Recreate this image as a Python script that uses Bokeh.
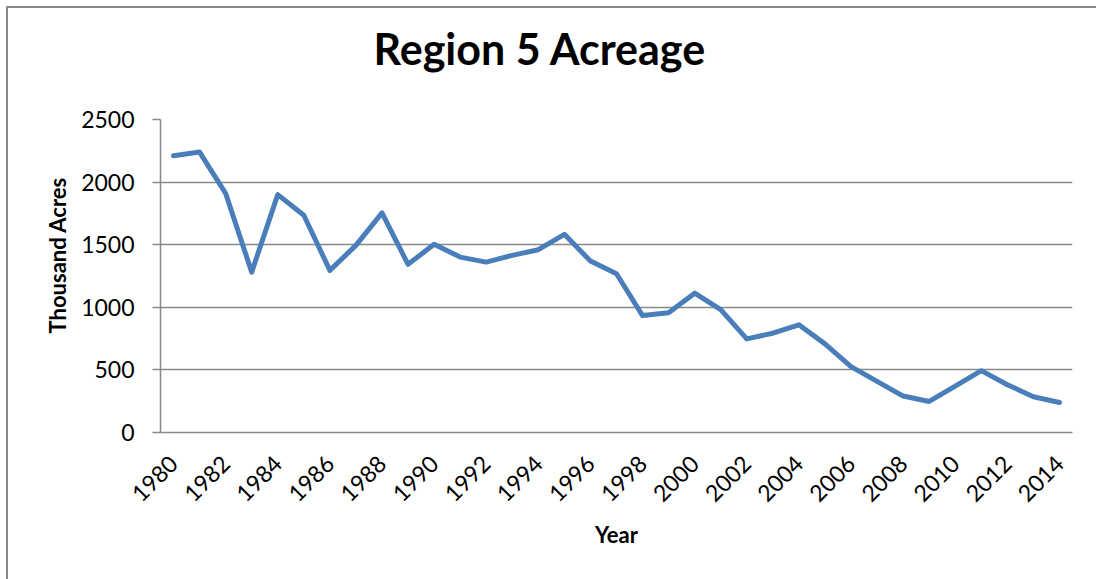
import math
from bokeh.plotting import figure
from bokeh.models import Range1d, FixedTicker, Title
from bokeh.embed import file_html
from bokeh.resources import INLINE

years = list(range(1980, 2015))
acres = [2210, 2240, 1910, 1281, 1900, 1735, 1295, 1495, 1754, 1343,
         1503, 1401, 1361, 1415, 1460, 1583, 1369, 1268, 934, 956,
         1113, 982, 748, 793, 860, 708, 526, 408, 291, 248,
         371, 494, 382, 286, 240]
year_ticks = list(range(1980, 2015, 2))
acre_ticks = [0, 500, 1000, 1500, 2000, 2500]

title_text = "Region 5 Acreage"
y_label = "Thousand Acres"
x_label = "Year"

FONT = "Lato"
GRID = "#898989"

p = figure(width=1096, height=579, output_backend="svg", toolbar_location=None,
           x_range=Range1d(1979.5, 2014.5), y_range=Range1d(0, 2500),
           min_border_left=160, min_border_right=24, min_border_top=119,
           min_border_bottom=147)
p.outline_line_color = None
p.background_fill_color = "white"
p.border_fill_color = None
p.styles = {
    "background-color": "white",
    "background-image": "linear-gradient(#888888, #888888), linear-gradient(#888888, #888888)",
    "background-size": "2px 100%, 100% 2px",
    "background-position": "6px 6px, 6px 6px",
    "background-repeat": "no-repeat",
}

p.line(years, acres, line_color="#4A7EBB", line_width=5,
       line_join="round", line_cap="round")

# axes
p.xaxis.ticker = FixedTicker(ticks=year_ticks)
p.yaxis.ticker = FixedTicker(ticks=acre_ticks)
p.xgrid.visible = False
p.ygrid.ticker = FixedTicker(ticks=acre_ticks)
p.ygrid.grid_line_color = GRID
p.ygrid.grid_line_width = 1.5

for ax in (p.xaxis[0], p.yaxis[0]):
    ax.axis_line_color = GRID
    ax.axis_line_width = 1.5
    ax.major_tick_line_color = GRID
    ax.major_tick_line_width = 1.5
    ax.minor_tick_line_color = None
    ax.major_label_text_font = FONT
    ax.major_label_text_font_size = "23px"
    ax.major_label_text_color = "black"

p.yaxis.major_tick_out = 8
p.yaxis.major_tick_in = 0
p.yaxis.major_label_standoff = 18
p.xaxis.major_tick_out = 0
p.xaxis.major_tick_in = 0
p.xaxis.major_label_standoff = 27
p.xaxis.major_label_orientation = math.pi / 4

p.xaxis.axis_label = x_label
p.xaxis.axis_label_text_font = FONT
p.xaxis.axis_label_text_font_style = "bold"
p.xaxis.axis_label_text_font_size = "22px"
p.xaxis.axis_label_text_color = "black"
p.xaxis.axis_label_standoff = 9

p.add_layout(Title(text=title_text, align="left", offset=213, standoff=0,
                   padding=dict(left=0, right=0, top=0, bottom=46),
                   text_font=FONT, text_font_style="bold",
                   text_font_size="43px", text_color="black"), "above")
p.add_layout(Title(text=y_label, align="left", offset=99, standoff=15,
                   text_font=FONT, text_font_style="bold",
                   text_font_size="22px", text_color="black"), "left")

open("out.html", "w").write(file_html(p, INLINE))
